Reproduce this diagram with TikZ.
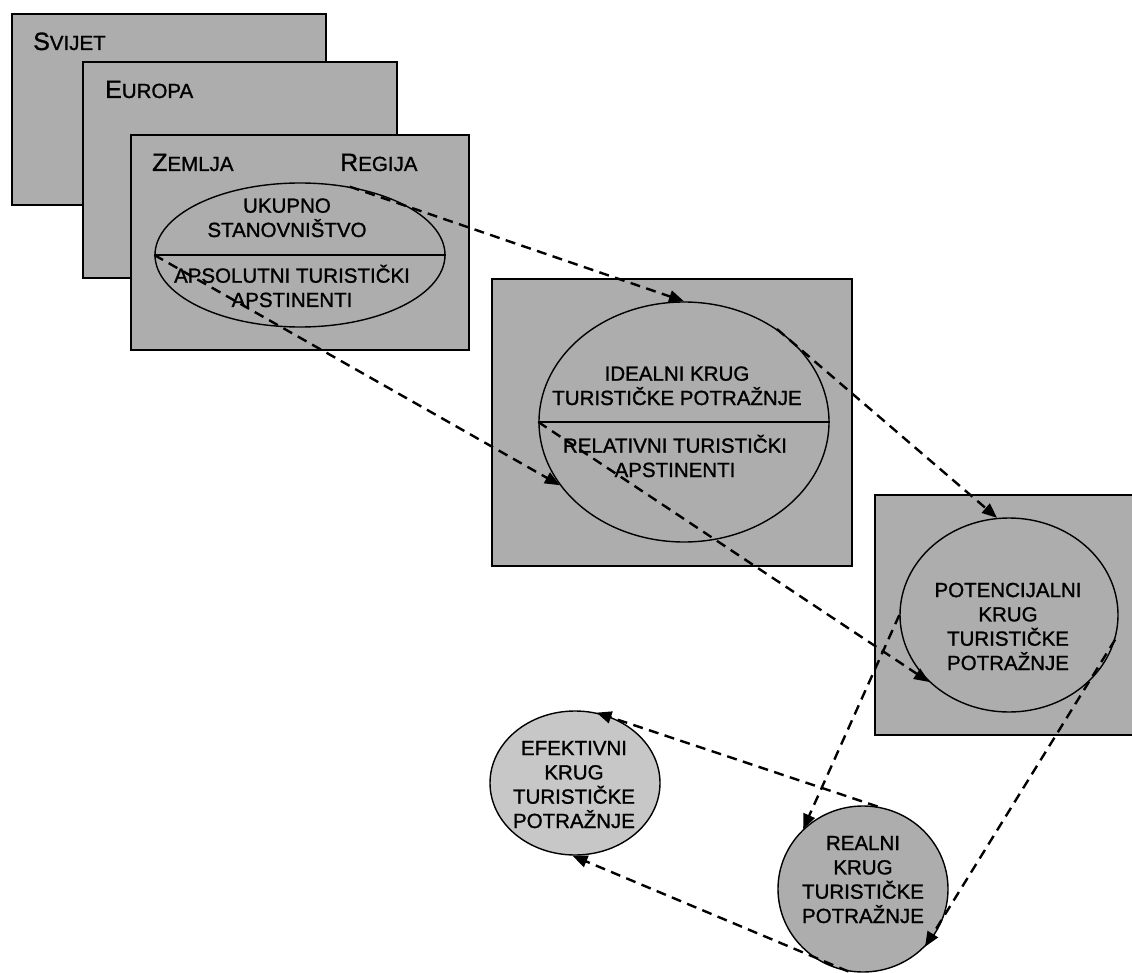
\documentclass[tikz,border=0pt]{standalone}
\usepackage{fontspec}
\setmainfont{Liberation Sans}[FakeBold=1.2]
\usetikzlibrary{arrows.meta,shapes.geometric}
\definecolor{boxgray}{gray}{0.68}
\definecolor{lightgraytwo}{gray}{0.78}
\newcommand\capsc[2]{{\fontsize{25}{30}\selectfont #1}{\fontsize{20.5}{24}\selectfont #2}}
\begin{document}
\begin{tikzpicture}[x=1pt,y=-1pt,
  panel/.style={draw=black, line width=1.3pt, fill=boxgray},
  oval/.style={ellipse, draw=black, line width=1.4pt, inner sep=0pt},
  lbl/.style={font=\fontsize{20.5}{24.3}\selectfont, align=center, inner sep=0pt, anchor=base},
  flow/.style={dash pattern=on 10pt off 6.5pt, line width=2.4pt, -{Triangle[length=15pt,width=12pt]}}
]
\useasboundingbox (0,0) rectangle (1132,973);
% panels
\draw[panel] (12,14) rectangle (326,205);
\draw[panel] (83,62) rectangle (397,278);
\draw[panel] (131,135) rectangle (469,350);
\draw[panel] (492,279) rectangle (852,566);
\draw[panel] (875,495) rectangle (1145,735);
% ovals
\node[oval, minimum width=290pt, minimum height=144pt] (e1) at (300,255) {};
\draw[line width=1.4pt] (e1.west) -- (e1.east);
\node[oval, minimum width=290pt, minimum height=240pt] (e2) at (684,422) {};
\draw[line width=1.4pt] (e2.west) -- (e2.east);
\node[oval, minimum width=218pt, minimum height=194pt] (c3) at (1009,615) {};
\node[oval, fill=lightgraytwo, minimum width=170pt, minimum height=144pt] (ef) at (575,783) {};
\node[oval, fill=boxgray, minimum width=170pt, minimum height=166pt] (r) at (863,889) {};
% labels
\node[lbl, anchor=base west] (svijet) at (33,50) {\capsc{S}{VIJET}};
\node[lbl, anchor=base west] (europa) at (105,98) {\capsc{E}{UROPA}};
\node[lbl, anchor=base west] (zemlja) at (152,171) {\capsc{Z}{EMLJA}};
\node[lbl, anchor=base west] (regija) at (340,171) {\capsc{R}{EGIJA}};
\node[lbl] (t1) at (287,237) {UKUPNO\\STANOVNIŠTVO};
\node[lbl] (t2) at (292,307) {APSOLUTNI TURISTIČKI\\APSTINENTI};
\node[lbl] (t3) at (677,405) {IDEALNI KRUG\\TURISTIČKE POTRAŽNJE};
\node[lbl] (t4) at (675,477) {RELATIVNI TURISTIČKI\\APSTINENTI};
\node[lbl] (t5) at (1008,670) {POTENCIJALNI\\KRUG\\TURISTIČKE\\POTRAŽNJE};
\node[lbl] (t6) at (574,828) {EFEKTIVNI\\KRUG\\TURISTIČKE\\POTRAŽNJE};
\node[lbl] (t7) at (863,923) {REALNI\\KRUG\\TURISTIČKE\\POTRAŽNJE};
% flows
\draw[flow] (e1.54) -- (e2.north);
\draw[flow] (e2.45) -- (c3.97);
\draw[flow] (e1.west) -- (e2.207);
\draw[flow] (e2.west) -- (c3.220);
\draw[flow] (c3.west) -- (r.135);
\draw[flow] (c3.-13) -- (r.-43);
\draw[flow] (r.80) -- (ef.73);
\draw[flow] (r.260) -- (ef.268);
\end{tikzpicture}
\end{document}
